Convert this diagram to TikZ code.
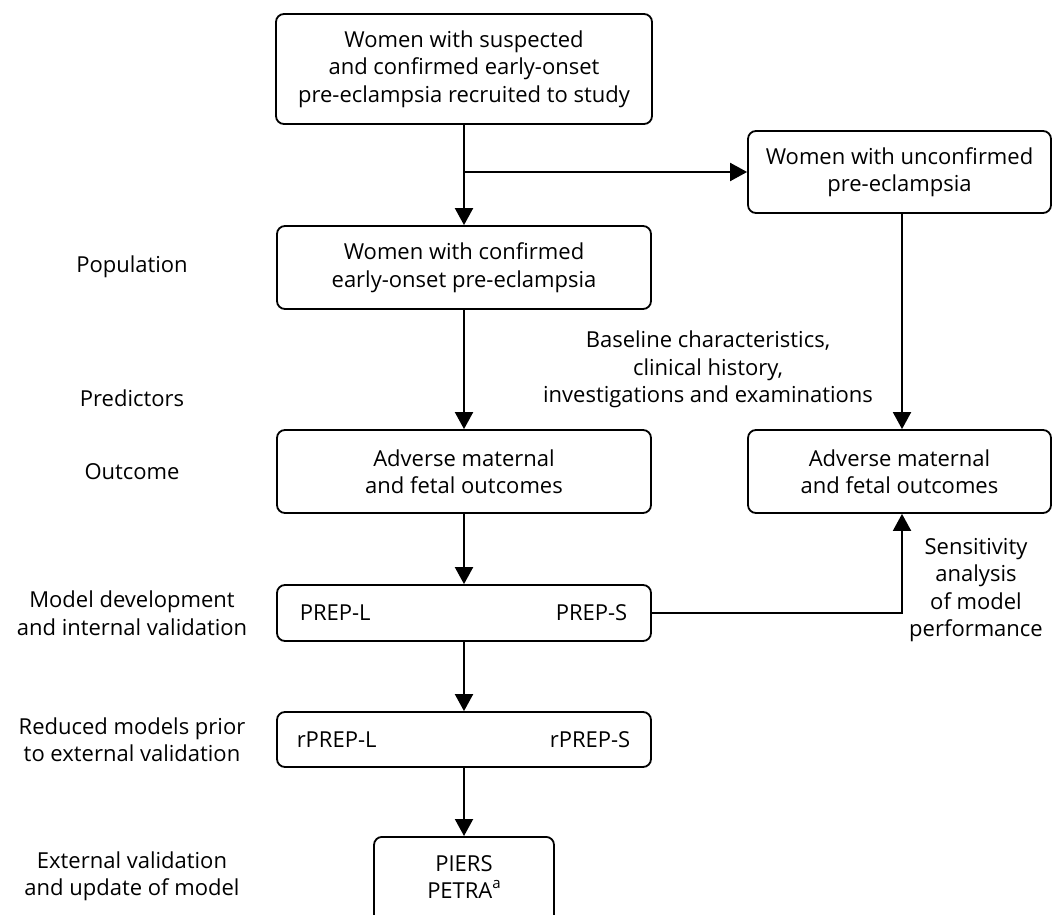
\documentclass[tikz,border=0pt]{standalone}
\usepackage{fontspec}
\setmainfont{Open Sans}
\usetikzlibrary{arrows.meta}

\begin{document}
\begin{tikzpicture}[x=0.5pt, y=-0.5pt,
                    every node/.style={font=\fontsize{11}{13.75}\selectfont, align=center},
                    box/.style={draw, line width=0.9pt, rounded corners=4pt, inner sep=0pt},
                    >={Triangle[length=8.5pt, width=9pt]}, line width=1pt]
    \useasboundingbox (0,0) rectangle (1052,914);
    % Main column
    \node[box, minimum width=188pt, minimum height=55pt] (recruit) at (464,69)
        {Women with suspected\\and confirmed early-onset\\pre-eclampsia recruited to study};
    \node[box, minimum width=187pt, minimum height=41.5pt] (confirmed) at (464,267.5)
        {Women with confirmed\\early-onset pre-eclampsia};
    \node[box, minimum width=187pt, minimum height=41.5pt] (adverseL) at (464,471.5)
        {Adverse maternal\\and fetal outcomes};
    \node[box, minimum width=187pt, minimum height=28pt] (prep) at (464,613) {};
    \node[anchor=west] (prepL) at ([xshift=8pt]prep.west) {PREP-L};
    \node[anchor=east] (prepS) at ([xshift=-8.5pt]prep.east) {PREP-S};
    \node[box, minimum width=187pt, minimum height=27.5pt] (rprep) at (464,739.5) {};
    \node[anchor=west] (rprepL) at ([xshift=6.5pt]rprep.west) {rPREP-L};
    \node[anchor=east] (rprepS) at ([xshift=-7pt]rprep.east) {rPREP-S};
    \node[box, minimum width=90pt, minimum height=48pt, anchor=north] (piers) at (464,836) {};
    \node (piersText) at (464,877)
        {PIERS\\PETRA\raisebox{0.85ex}{\fontsize{7.5}{8}\selectfont a}};
    % Side column
    \node[box, minimum width=151.5pt, minimum height=41pt] (unconf) at (899.5,172)
        {Women with unconfirmed\\pre-eclampsia};
    \node[box, minimum width=151.5pt, minimum height=41.5pt] (adverseR) at (899.5,471.5)
        {Adverse maternal\\and fetal outcomes};
    % Stage labels
    \node (population) at (132,267) {Population};
    \node (predictors) at (132,398) {Predictors};
    \node (outcome) at (132,472) {Outcome};
    \node (development) at (132,613) {Model development\\and internal validation};
    \node (reduced) at (132,739.5) {Reduced models prior\\to external validation};
    \node (external) at (132,876.5) {External validation\\and update of model};
    \node (baseline) at (708,369.5) {Baseline characteristics,\\clinical history,\\investigations and examinations};
    \node (sensitivity) at (976,590) {Sensitivity\\analysis\\of model\\performance};
    % Connectors
    \coordinate (split) at (recruit.south |- unconf.west);
    \coordinate (sidex) at (902,613);
    \draw[->] (recruit) -- (confirmed);
    \draw[->] (split) -- (unconf.west);
    \draw[->] (unconf.south -| sidex) -- (adverseR.north -| sidex);
    \draw[->] (confirmed) -- (adverseL);
    \draw[->] (adverseL) -- (prep);
    \draw[->] (prep.east) -- (sidex) -- (adverseR.south -| sidex);
    \draw[->] (prep) -- (rprep);
    \draw[->] (rprep) -- (piers);
\end{tikzpicture}
\end{document}
